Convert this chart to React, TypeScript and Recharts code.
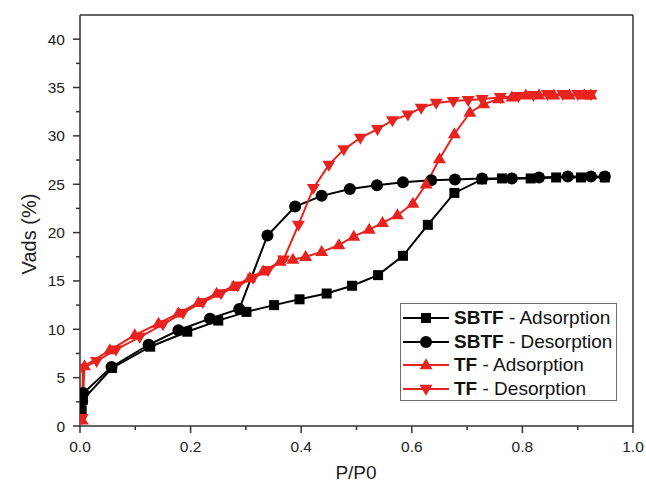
import { LineChart, Line, XAxis, YAxis, ReferenceLine } from "recharts";

const FONT = "'Liberation Sans', Arial, sans-serif";
const BLACK = "#000000";
const RED = "#e8231f";
const FRAME = "#333333";

// P/P0 values (x) and Vads (%) values (y)
const sbtfAdsX = [0.003, 0.005, 0.058, 0.127, 0.194, 0.25, 0.301, 0.351, 0.397, 0.446, 0.492, 0.539, 0.584, 0.629, 0.677, 0.727, 0.763, 0.815, 0.861, 0.906, 0.949];
const sbtfAdsY = [1.6, 2.7, 6.0, 8.2, 9.75, 10.9, 11.8, 12.5, 13.1, 13.7, 14.5, 15.6, 17.6, 20.8, 24.1, 25.5, 25.6, 25.6, 25.7, 25.7, 25.7];

const sbtfDesX = [0.949, 0.924, 0.882, 0.83, 0.781, 0.727, 0.678, 0.635, 0.584, 0.537, 0.488, 0.437, 0.389, 0.339, 0.288, 0.235, 0.178, 0.124, 0.057, 0.006, 0.004];
const sbtfDesY = [25.8, 25.8, 25.8, 25.7, 25.6, 25.6, 25.5, 25.4, 25.2, 24.9, 24.5, 23.8, 22.7, 19.7, 12.1, 11.1, 9.9, 8.4, 6.1, 3.4, 2.6];

const tfAdsX = [0.004, 0.008, 0.054, 0.099, 0.142, 0.178, 0.214, 0.247, 0.277, 0.307, 0.331, 0.362, 0.385, 0.408, 0.437, 0.468, 0.495, 0.523, 0.547, 0.574, 0.602, 0.626, 0.65, 0.677, 0.705, 0.73, 0.757, 0.781, 0.806, 0.83, 0.857, 0.885, 0.912, 0.924];
const tfAdsY = [0.6, 6.2, 7.85, 9.4, 10.6, 11.65, 12.75, 13.7, 14.4, 15.3, 16.0, 17.0, 17.2, 17.5, 18.0, 18.7, 19.6, 20.3, 21.0, 21.8, 23.0, 25.0, 27.6, 30.2, 32.4, 33.3, 33.8, 34.0, 34.2, 34.2, 34.2, 34.2, 34.2, 34.2];

const tfDesX = [0.924, 0.9, 0.873, 0.845, 0.82, 0.793, 0.76, 0.727, 0.702, 0.675, 0.644, 0.617, 0.593, 0.565, 0.538, 0.507, 0.477, 0.45, 0.422, 0.395, 0.368, 0.34, 0.313, 0.285, 0.255, 0.222, 0.186, 0.15, 0.108, 0.065, 0.03, 0.005, 0.004];
const tfDesY = [34.3, 34.3, 34.3, 34.3, 34.2, 34.1, 34.0, 33.8, 33.7, 33.6, 33.4, 32.9, 32.2, 31.6, 30.7, 29.8, 28.6, 27.0, 24.6, 20.8, 17.2, 16.1, 15.3, 14.5, 13.7, 12.8, 11.7, 10.5, 9.2, 7.9, 6.7, 6.0, 0.8];

const xTicks = [0, 0.1, 0.2, 0.3, 0.4, 0.5, 0.6, 0.7, 0.8, 0.9, 1.0];
const yTicks = [0, 2.5, 5, 7.5, 10, 12.5, 15, 17.5, 20, 22.5, 25, 27.5, 30, 32.5, 35, 37.5, 40];

const toPoints = (xs: number[], ys: number[]) => xs.map((x, i) => ({ x, y: ys[i] }));

type Shape = "square" | "circle" | "up" | "down";

const Marker = ({ cx, cy, shape, color }: { cx: number; cy: number; shape: Shape; color: string }) => {
  if (cx == null || cy == null) return null;
  if (shape === "square") return <rect x={cx - 5} y={cy - 5} width={10} height={10} fill={color} />;
  if (shape === "circle") return <circle cx={cx} cy={cy} r={6} fill={color} />;
  const h = 11;
  const w = 13;
  if (shape === "up")
    return <polygon points={`${cx},${cy - h * 0.62} ${cx - w / 2},${cy + h * 0.38} ${cx + w / 2},${cy + h * 0.38}`} fill={color} />;
  return <polygon points={`${cx},${cy + h * 0.62} ${cx - w / 2},${cy - h * 0.38} ${cx + w / 2},${cy - h * 0.38}`} fill={color} />;
};

const makeDot = (shape: Shape, color: string) => (props: any) => (
  <Marker key={`${shape}-${props.index}`} cx={props.cx} cy={props.cy} shape={shape} color={color} />
);

const YTick = (props: any) => {
  const { x, y, payload } = props;
  const major = payload.value % 5 === 0;
  return (
    <g>
      <line x1={x} x2={x - (major ? 7 : 4)} y1={y} y2={y} stroke={FRAME} strokeWidth={1.5} />
      {major && (
        <text x={x - 15} y={y + 5.5} textAnchor="end" fontSize={15.5} fontFamily={FONT} fill="#222">
          {payload.value}
        </text>
      )}
    </g>
  );
};

const XTick = (props: any) => {
  const { x, y, payload } = props;
  const major = Math.round(payload.value * 10) % 2 === 0;
  return (
    <g>
      <line x1={x} x2={x} y1={y} y2={y + (major ? 7 : 4)} stroke={FRAME} strokeWidth={1.5} />
      {major && (
        <text x={x} y={y + 26} textAnchor="middle" fontSize={15.5} fontFamily={FONT} fill="#222">
          {payload.value.toFixed(1)}
        </text>
      )}
    </g>
  );
};

const legendItems: { prefix: string; rest: string; shape: Shape; color: string }[] = [
  { prefix: "SBTF", rest: " - Adsorption", shape: "square", color: BLACK },
  { prefix: "SBTF", rest: " - Desorption", shape: "circle", color: BLACK },
  { prefix: "TF", rest: " - Adsorption", shape: "up", color: RED },
  { prefix: "TF", rest: " - Desorption", shape: "down", color: RED },
];

export default function App() {
  return (
    <div style={{ position: "absolute", left: 0, top: 0, width: 646, height: 483, background: "#fff" }}>
      <LineChart width={646} height={483} margin={{ top: 15, right: 13, bottom: 0, left: 0 }}>
        <XAxis
          type="number"
          dataKey="x"
          domain={[0, 1]}
          ticks={xTicks}
          interval={0}
          height={57}
          tickSize={0}
          tickMargin={0}
          tick={<XTick />}
          axisLine={{ stroke: FRAME, strokeWidth: 1.5 }}
          allowDataOverflow
        />
        <YAxis
          type="number"
          dataKey="y"
          domain={[0, 42.5]}
          ticks={yTicks}
          interval={0}
          width={80}
          tickSize={0}
          tickMargin={0}
          tick={<YTick />}
          axisLine={{ stroke: FRAME, strokeWidth: 1.5 }}
          allowDataOverflow
        />
        <ReferenceLine y={42.5} stroke={FRAME} strokeWidth={1.5} />
        <ReferenceLine x={1} stroke={FRAME} strokeWidth={1.5} />
        <Line
          data={toPoints(sbtfAdsX, sbtfAdsY)}
          dataKey="y"
          type="linear"
          stroke={BLACK}
          strokeWidth={2}
          dot={makeDot("square", BLACK)}
          activeDot={false}
          isAnimationActive={false}
        />
        <Line
          data={toPoints(sbtfDesX, sbtfDesY)}
          dataKey="y"
          type="linear"
          stroke={BLACK}
          strokeWidth={2}
          dot={makeDot("circle", BLACK)}
          activeDot={false}
          isAnimationActive={false}
        />
        <Line
          data={toPoints(tfAdsX, tfAdsY)}
          dataKey="y"
          type="linear"
          stroke={RED}
          strokeWidth={2}
          dot={makeDot("up", RED)}
          activeDot={false}
          isAnimationActive={false}
        />
        <Line
          data={toPoints(tfDesX, tfDesY)}
          dataKey="y"
          type="linear"
          stroke={RED}
          strokeWidth={2}
          dot={makeDot("down", RED)}
          activeDot={false}
          isAnimationActive={false}
        />
      </LineChart>
      <svg width={646} height={483} style={{ position: "absolute", left: 0, top: 0, pointerEvents: "none" }}>
        <text x={356} y={479} textAnchor="middle" fontSize={19} fontFamily={FONT} fill="#222">
          P/P0
        </text>
        <text x={36} y={234} transform="rotate(-90 36 234)" textAnchor="middle" fontSize={20} fontFamily={FONT} fill="#222">
          Vads (%)
        </text>
      </svg>
      <div
        style={{
          position: "absolute",
          left: 400,
          top: 303,
          width: 217,
          height: 98,
          border: "1px solid #6e6e6e",
          background: "#fff",
          boxSizing: "border-box",
        }}
      >
        {legendItems.map((item, i) => (
          <div
            key={item.prefix + item.rest}
            style={{ position: "absolute", left: 2, top: 2 + i * 23.5, height: 24, display: "flex", alignItems: "center", whiteSpace: "nowrap" }}
          >
            <svg width={46} height={24}>
              <line x1={0} x2={46} y1={12} y2={12} stroke={item.color} strokeWidth={2} />
              <Marker cx={23} cy={12} shape={item.shape} color={item.color} />
            </svg>
            <span style={{ fontFamily: FONT, fontSize: 19, color: "#111", marginLeft: 5 }}>
              <b>{item.prefix}</b>
              {item.rest}
            </span>
          </div>
        ))}
      </div>
    </div>
  );
}
